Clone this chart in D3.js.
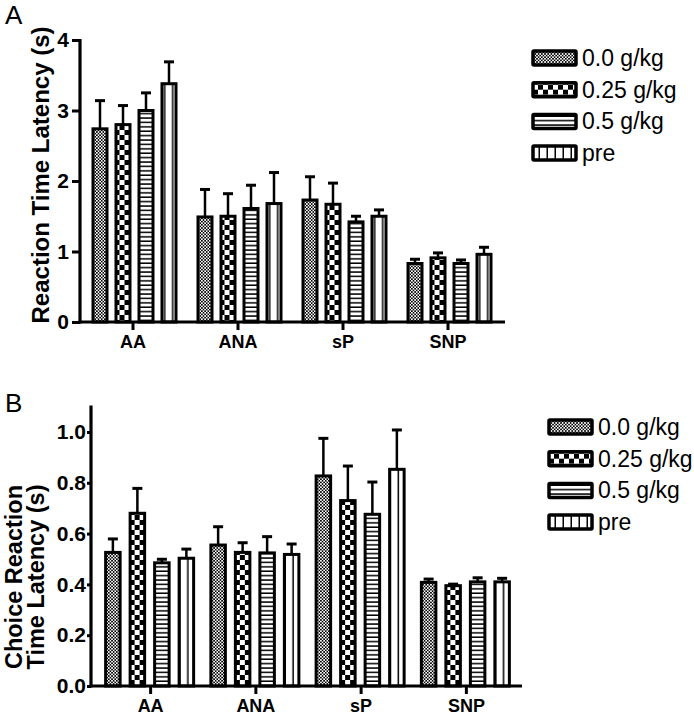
<!DOCTYPE html>
<html>
<head>
<meta charset="utf-8">
<script src="https://cdn.jsdelivr.net/npm/d3@7"></script>
<style>
  body { margin: 0; background: #fff; }
  svg text { font-family: Arial, "Liberation Sans", Helvetica, sans-serif; fill: #000; }
</style>
</head>
<body>
<svg id="chart" width="694" height="719"></svg>
<script>
// categories and groups
var categories = ["AA", "ANA", "sP", "SNP"];
var doses = ["0.0 g/kg", "0.25 g/kg", "0.5 g/kg", "pre"];

// panel A: reaction time latency (s), mean per category x dose
var rtMean = [
  [2.74, 2.80, 3.00, 3.38],
  [1.49, 1.50, 1.61, 1.68],
  [1.73, 1.67, 1.42, 1.50],
  [0.83, 0.91, 0.83, 0.96]
];
var rtSem = [
  [0.40, 0.27, 0.25, 0.31],
  [0.39, 0.32, 0.33, 0.44],
  [0.33, 0.30, 0.08, 0.09],
  [0.06, 0.07, 0.05, 0.10]
];
var rtTicks = [0, 1, 2, 3, 4];

// panel B: choice reaction time latency (s)
var crtMean = [
  [0.526, 0.680, 0.485, 0.503],
  [0.555, 0.526, 0.524, 0.518],
  [0.827, 0.730, 0.676, 0.853],
  [0.408, 0.395, 0.410, 0.410]
];
var crtSem = [
  [0.053, 0.098, 0.014, 0.036],
  [0.072, 0.038, 0.064, 0.041],
  [0.148, 0.136, 0.127, 0.155],
  [0.013, 0.006, 0.016, 0.014]
];
var crtTicks = [0, 0.2, 0.4, 0.6, 0.8, 1.0];

var svg = d3.select("#chart");

// fill patterns, one per dose
var defs = svg.append("defs");
var p0 = defs.append("pattern").attr("id", "pat0").attr("patternUnits", "userSpaceOnUse")
  .attr("width", 3.2).attr("height", 3.2);
p0.append("rect").attr("width", 3.2).attr("height", 3.2).attr("fill", "#fff");
p0.append("rect").attr("width", 1.6).attr("height", 1.6).attr("fill", "#000");
p0.append("rect").attr("x", 1.6).attr("y", 1.6).attr("width", 1.6).attr("height", 1.6).attr("fill", "#000");

var p1 = defs.append("pattern").attr("id", "pat1").attr("patternUnits", "userSpaceOnUse")
  .attr("width", 10).attr("height", 10);
p1.append("rect").attr("width", 10).attr("height", 10).attr("fill", "#fff");
p1.append("rect").attr("width", 5).attr("height", 5).attr("fill", "#000");
p1.append("rect").attr("x", 5).attr("y", 5).attr("width", 5).attr("height", 5).attr("fill", "#000");

var p2 = defs.append("pattern").attr("id", "pat2").attr("patternUnits", "userSpaceOnUse")
  .attr("width", 10).attr("height", 4.4);
p2.append("rect").attr("width", 10).attr("height", 4.4).attr("fill", "#fff");
p2.append("rect").attr("y", 2.9).attr("width", 10).attr("height", 1.5).attr("fill", "#000");

var p3 = defs.append("pattern").attr("id", "pat3").attr("patternUnits", "userSpaceOnUse")
  .attr("width", 8).attr("height", 10);
p3.append("rect").attr("width", 8).attr("height", 10).attr("fill", "#fff");
p3.append("rect").attr("x", 5.5).attr("width", 1.5).attr("height", 10).attr("fill", "#000");

var fills = ["url(#pat0)", "url(#pat1)", "url(#pat2)", "url(#pat3)"];

function drawPanel(o) {
  var g = svg.append("g");

  var y = d3.scaleLinear().domain([0, o.yMax]).range([o.y0, o.yTop]);
  var x = d3.scaleBand().domain(categories).range([o.xLeft + o.pad, o.xLeft + o.pad + o.step * 4]);
  // bar slots inside each category
  var xs = d3.scaleBand().domain(doses).range([-o.inner * 2, o.inner * 2]);

  // bars
  var groups = g.selectAll(".grp").data(categories).enter().append("g")
    .attr("transform", function(c) { return "translate(" + (x(c) + x.bandwidth() / 2 + o.shift) + ",0)"; });

  groups.each(function(c, ci) {
    var gg = d3.select(this);
    doses.forEach(function(d, di) {
      var cx = xs(d) + xs.bandwidth() / 2;
      var m = o.mean[ci][di], e = o.sem[ci][di];
      // error bar (drawn first so bar outline sits on top)
      gg.append("line")
        .attr("x1", cx).attr("x2", cx)
        .attr("y1", y(m)).attr("y2", y(m + e))
        .attr("stroke", "#000").attr("stroke-width", 2.5);
      gg.append("line")
        .attr("x1", cx - 5).attr("x2", cx + 5)
        .attr("y1", y(m + e)).attr("y2", y(m + e))
        .attr("stroke", "#000").attr("stroke-width", 3);
      gg.append("rect")
        .attr("x", cx - o.barW / 2)
        .attr("y", y(m))
        .attr("width", o.barW)
        .attr("height", y(0) - y(m))
        .attr("fill", fills[di])
        .attr("stroke", "#000").attr("stroke-width", 3);
    });
  });

  // y axis
  var yAxis = d3.axisLeft(y).tickValues(o.ticks).tickFormat(o.fmt)
    .tickSizeInner(o.tickLen).tickSizeOuter(0).tickPadding(o.tickPad);
  var ya = g.append("g").attr("transform", "translate(" + o.xLeft + ",0)").call(yAxis);
  ya.select(".domain").remove();
  ya.append("line").attr("x1", 0).attr("x2", 0)
    .attr("y1", y(o.yMax) - 1).attr("y2", o.y0 + 1.5)
    .attr("stroke", "#000").attr("stroke-width", 3.2);
  ya.selectAll(".tick line").attr("stroke", "#000").attr("stroke-width", 3);
  ya.selectAll(".tick text").attr("font-size", o.tickFont).attr("font-weight", "bold")
    .attr("font-family", "Arial, 'Liberation Sans', sans-serif").attr("fill", "#000");

  // x axis
  var xAxis = d3.axisBottom(x).tickSizeInner(8).tickSizeOuter(0).tickPadding(5);
  var xa = g.append("g").attr("transform", "translate(0," + o.y0 + ")").call(xAxis);
  xa.select(".domain").remove();
  xa.append("line").attr("x1", o.xLeft - 1.5).attr("x2", o.xRight)
    .attr("y1", 0).attr("y2", 0)
    .attr("stroke", "#000").attr("stroke-width", 3.2);
  xa.selectAll(".tick line").attr("stroke", "#000").attr("stroke-width", 3);
  xa.selectAll(".tick text").attr("font-size", 18).attr("font-weight", "bold")
    .attr("font-family", "Arial, 'Liberation Sans', sans-serif").attr("fill", "#000");

  // y title
  var t = g.append("text")
    .attr("transform", "translate(" + o.titleX + "," + o.titleY + ") rotate(-90)")
    .attr("text-anchor", "middle")
    .attr("font-size", o.titleFont).attr("font-weight", "bold");
  o.title.forEach(function(line, i) {
    t.append("tspan").attr("x", 0).attr("y", i * o.titleGap).text(line);
  });

  // panel letter
  g.append("text").attr("x", 5).attr("y", o.letterY).attr("font-size", 26).text(o.letter);

  // legend
  var leg = g.selectAll(".leg").data(doses).enter().append("g")
    .attr("transform", function(d, i) { return "translate(" + o.legX + "," + (o.legY + i * o.legGap) + ")"; });
  leg.append("rect").attr("x", 0).attr("y", -7).attr("width", 43).attr("height", 14)
    .attr("fill", function(d, i) { return fills[i]; })
    .attr("stroke", "#000").attr("stroke-width", 3.5).attr("rx", 1);
  leg.append("text").attr("x", 49).attr("y", 8).attr("font-size", 23).text(function(d) { return d; });
}

drawPanel({
  letter: "A", letterY: 24,
  mean: rtMean, sem: rtSem, ticks: rtTicks, fmt: d3.format("d"), yMax: 4,
  y0: 322, yTop: 40, xLeft: 80, xRight: 505, pad: 0.5, step: 105, shift: 1.5,
  inner: 23, barW: 14, tickLen: 8, tickPad: 3, tickFont: 21,
  title: ["Reaction Time Latency (s)"], titleX: 49, titleY: 175, titleFont: 24, titleGap: 0,
  legX: 533, legY: 58, legGap: 31.7
});

drawPanel({
  letter: "B", letterY: 412,
  mean: crtMean, sem: crtSem, ticks: crtTicks, fmt: d3.format(".1f"), yMax: 1.1,
  y0: 686, yTop: 406.6, xLeft: 91, xRight: 522, pad: 7, step: 105.25, shift: -1,
  inner: 24.5, barW: 14.5, tickLen: 4, tickPad: 1, tickFont: 21,
  title: ["Choice Reaction", "Time Latency (s)"], titleX: 22, titleY: 577, titleFont: 23.5, titleGap: 22,
  legX: 549, legY: 427, legGap: 31.7
});
</script>
</body>
</html>
